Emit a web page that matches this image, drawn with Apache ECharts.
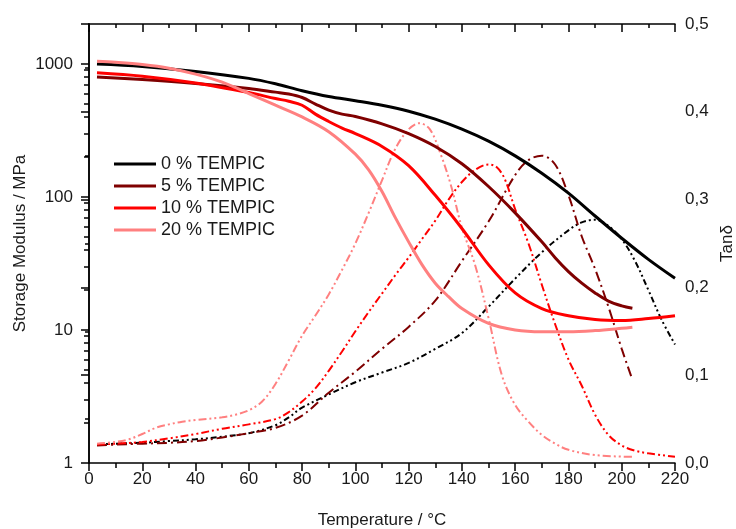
<!DOCTYPE html>
<html>
<head>
<meta charset="utf-8">
<script src="https://cdn.jsdelivr.net/npm/echarts@6/dist/echarts.min.js"></script>
<style>
  html, body { margin: 0; padding: 0; background: #fff; }
  #chart { width: 736px; height: 529px; }
</style>
</head>
<body>
<div id="chart"></div>
<script>
// Storage modulus (MPa) against temperature (°C)
const tempE0 = [3,20,40,60,70,80,90,100,110,120,130,140,150,160,170,180,190,200,210,220];
const modE0  = [1000,960,880,780,710,630,570,530,490,442,385,324,263,204,151,107,72,49,34,24.5];

const tempE5 = [3,20,40,60,70,75,80,85,90,95,100,110,120,130,140,150,160,170,175,180,185,190,195,200,204];
const modE5  = [800,765,715,655,615,595,560,500,450,420,403,355,300,240,178,120,76,46,35,27.5,22.5,19,16.5,15.2,14.6];

const tempE10 = [3,20,40,60,70,75,80,85,90,95,100,110,120,130,140,150,160,170,180,190,200,210,220];
const modE10  = [860,810,720,610,550,525,490,420,370,330,300,240,172,103,58,31,19,14.5,12.8,12,11.8,12.2,12.8];

const tempE20 = [3,10,20,30,40,50,60,70,80,90,100,105,110,115,120,125,130,135,140,150,160,170,180,190,200,204];
const modE20  = [1050,1030,990,930,840,730,600,490,400,310,210,160,110,70,46,31,22.5,17.8,14.5,11.2,10.0,9.7,9.7,9.9,10.3,10.5];

// Loss factor tan delta against temperature (°C)
const tempT0 = [3,10,20,30,40,50,60,70,75,80,90,100,110,120,130,140,150,160,170,180,185,190,195,200,205,210,215,220];
const tanT0  = [0.021,0.022,0.023,0.025,0.027,0.03,0.034,0.043,0.052,0.063,0.078,0.092,0.103,0.114,0.13,0.148,0.178,0.21,0.24,0.265,0.274,0.277,0.27,0.255,0.23,0.197,0.163,0.135];

const tempT5 = [3,10,20,30,40,50,60,70,80,90,100,110,120,130,140,150,160,165,170,175,180,185,190,195,200,204];
const tanT5  = [0.02,0.021,0.022,0.023,0.025,0.029,0.034,0.04,0.054,0.08,0.104,0.13,0.155,0.185,0.23,0.275,0.328,0.345,0.35,0.34,0.305,0.258,0.221,0.178,0.13,0.095];

const tempT10 = [3,10,20,30,40,50,60,70,75,80,85,90,95,100,105,110,115,120,125,130,135,140,145,150,153,156,160,165,170,175,180,185,190,195,200,205,210,220];
const tanT10  = [0.021,0.022,0.024,0.028,0.033,0.039,0.044,0.05,0.058,0.07,0.085,0.105,0.127,0.15,0.172,0.193,0.214,0.234,0.255,0.276,0.3,0.32,0.334,0.34,0.337,0.324,0.289,0.25,0.203,0.158,0.118,0.088,0.055,0.032,0.02,0.014,0.011,0.007];

const tempT20 = [3,10,15,20,25,30,35,40,50,55,60,65,70,75,80,85,90,95,100,105,110,115,120,124,128,132,136,140,145,150,155,160,165,170,175,180,190,204];
const tanT20  = [0.022,0.024,0.027,0.033,0.04,0.044,0.047,0.049,0.052,0.055,0.06,0.07,0.09,0.117,0.145,0.168,0.192,0.22,0.25,0.285,0.322,0.358,0.38,0.387,0.38,0.352,0.315,0.268,0.225,0.165,0.10,0.066,0.047,0.032,0.022,0.015,0.009,0.007];

const names = ['0 % TEMPIC', '5 % TEMPIC', '10 % TEMPIC', '20 % TEMPIC'];
const colors = ['#000000', '#7f0000', '#ff0000', '#ff8080'];

// Axis ticks
const xTicks = [0, 220, 20];
const logMajor = [1, 10, 100, 1000];
const logMinor = [2,3,4,5,6,7,8,9,20,30,40,50,60,70,80,90,200,300,400,500,600,700,800,900,2000];

const FONT = '"Liberation Sans", Arial, sans-serif';
const TXT = '#1a1a1a';

const zip = (xs, ys) => xs.map((x, i) => [x, ys[i]]);

const modData = [zip(tempE0, modE0), zip(tempE5, modE5), zip(tempE10, modE10), zip(tempE20, modE20)];
const tanData = [zip(tempT0, tanT0), zip(tempT5, tanT5), zip(tempT10, tanT10), zip(tempT20, tanT20)];
const dashes = [[6,3,2,3,2,3], [10,4,2,4], [8,3,2,3,2,3], [8,3,2,3,2,3]];

const series = [];
tanData.forEach((d, i) => {
  series.push({
    name: 'tan ' + names[i],
    type: 'line',
    xAxisIndex: 0,
    yAxisIndex: 1,
    data: d,
    smooth: 0.35,
    symbol: 'none',
    silent: true,
    lineStyle: { color: colors[i], width: 2, type: dashes[i] },
    z: 2
  });
});
modData.forEach((d, i) => {
  series.push({
    name: names[i],
    type: 'line',
    xAxisIndex: 0,
    yAxisIndex: 0,
    data: d,
    smooth: 0.35,
    symbol: 'none',
    silent: true,
    lineStyle: { color: colors[i], width: 3 },
    itemStyle: { color: colors[i] },
    z: 3
  });
});

const axisLine = { show: true, lineStyle: { color: '#000', width: 1.5 } };

const option = {
  animation: false,
  backgroundColor: '#fff',
  grid: { left: 89, right: 61, top: 24, bottom: 66, containLabel: false, outerBoundsMode: 'none' },
  legend: {
    data: names,
    orient: 'vertical',
    left: 109,
    top: 150,
    itemWidth: 42,
    itemHeight: 14,
    itemGap: 4,
    icon: 'path://M0,6 L42,6 L42,9 L0,9 Z',
    textStyle: { fontFamily: FONT, fontSize: 18, color: TXT },
    selectedMode: false
  },
  xAxis: [
    {
      type: 'value',
      min: xTicks[0], max: xTicks[1], interval: xTicks[2],
      position: 'bottom',
      name: 'Temperature / °C',
      nameLocation: 'middle',
      nameGap: 49,
      nameMoveOverlap: false,
      nameTextStyle: { fontFamily: FONT, fontSize: 17, color: TXT },
      axisLine: axisLine,
      axisTick: { show: true, inside: false, length: 8, lineStyle: { color: '#000', width: 1.5 } },
      minorTick: { show: true, splitNumber: 2, length: 5, lineStyle: { color: '#000', width: 1.5 } },
      axisLabel: { margin: 8, fontFamily: FONT, fontSize: 17, color: TXT },
      splitLine: { show: false }
    },
    {
      type: 'value',
      min: xTicks[0], max: xTicks[1], interval: xTicks[2],
      position: 'top',
      axisLine: axisLine,
      axisTick: { show: true, inside: true, length: 8, lineStyle: { color: '#000', width: 1.5 } },
      minorTick: { show: true, splitNumber: 2, length: 4, lineStyle: { color: '#000', width: 1.5 } },
      axisLabel: { show: false },
      splitLine: { show: false }
    }
  ],
  yAxis: [
    {
      type: 'log',
      logBase: 10,
      min: 1, max: 2000,
      position: 'left',
      name: 'Storage Modulus / MPa',
      nameLocation: 'middle',
      nameGap: 60,
      nameMoveOverlap: false,
      nameRotate: 90,
      nameTextStyle: { fontFamily: FONT, fontSize: 17, color: TXT },
      axisLine: axisLine,
      axisTick: { show: true, inside: false, length: 8, customValues: logMajor, lineStyle: { color: '#000', width: 1.5 } },
      axisLabel: {
        margin: 16, fontFamily: FONT, fontSize: 17, color: TXT,
        customValues: logMajor,
        formatter: v => String(Math.round(v))
      },
      splitLine: { show: false },
      minorTick: { show: false }
    },
    {
      type: 'value',
      min: 0, max: 0.5, interval: 0.1,
      position: 'right',
      name: 'Tanδ',
      nameLocation: 'middle',
      nameGap: 44,
      nameMoveOverlap: false,
      nameRotate: 90,
      nameTextStyle: { fontFamily: FONT, fontSize: 17, color: TXT },
      axisLine: axisLine,
      axisTick: { show: true, inside: true, length: 8, lineStyle: { color: '#000', width: 1.5 } },
      minorTick: { show: true, splitNumber: 2, length: 4, lineStyle: { color: '#000', width: 1.5 } },
      axisLabel: {
        margin: 10, fontFamily: FONT, fontSize: 17, color: TXT,
        formatter: v => v.toFixed(1).replace('.', ',')
      },
      splitLine: { show: false }
    },
    {
      // minor ticks of the logarithmic modulus axis
      type: 'log',
      logBase: 10,
      min: 1, max: 2000,
      position: 'left',
      axisLine: { show: false },
      axisTick: { show: true, inside: false, length: 5, customValues: logMinor, lineStyle: { color: '#000', width: 1.5 } },
      axisLabel: { show: false },
      splitLine: { show: false }
    }
  ],
  series: series
};

const chart = echarts.init(document.getElementById('chart'), null, { renderer: 'canvas' });
chart.setOption(option);
</script>
</body>
</html>
